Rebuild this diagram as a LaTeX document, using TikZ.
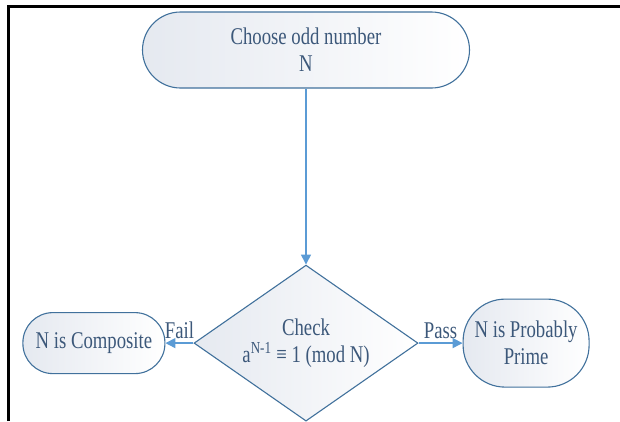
\documentclass[tikz,border=0pt]{standalone}
\usepackage{fontspec}
\setmainfont{Liberation Serif}[FakeStretch=0.78]
\usetikzlibrary{arrows.meta,shapes.geometric,positioning}
\definecolor{boxline}{RGB}{65,113,156}
\definecolor{boxtext}{RGB}{60,88,122}
\definecolor{flowline}{RGB}{91,155,213}
\definecolor{boxshade}{RGB}{229,233,240}

\begin{document}
\begin{tikzpicture}[x=1pt,y=1pt,->,>={Triangle[length=10pt,width=10pt]},auto,text=boxtext,
  font=\fontsize{24}{27}\selectfont]
  \tikzstyle{terminal}=[draw=boxline,line width=1.1pt,left color=boxshade,right color=white,align=center,inner sep=0pt]
  \tikzstyle{decision}=[diamond,draw=boxline,line width=1.1pt,left color=boxshade,right color=white,align=center,
    inner sep=0pt,minimum width=224pt,minimum height=156pt,shape aspect=1.44]
  \tikzstyle{flow}=[every edge/.style={draw=flowline,line width=1.4pt}]

  \useasboundingbox (0,0) rectangle (620,-421);
  % frame of the page
  \draw[-,line width=3pt] (8.5,-421) -- (8.5,-6.5) -- (620,-6.5);

  \node[terminal,rounded corners=38pt,minimum width=327pt,minimum height=76pt] (start) at (306,-50) {Choose odd number\\N};
  \node[decision]  (check)     [below=176pt of start] {Check\\a\textsuperscript{N-1} ≡ 1 (mod N)};
  \node[terminal,rounded corners=30pt,minimum width=142pt,minimum height=61pt] (composite) [left=28pt of check] {N is Composite};
  \node[terminal,rounded corners=42pt,minimum width=126pt,minimum height=88pt] (prime)     [right=44pt of check] {N is Probably\\Prime};

  \path[flow]
  (start) edge (check)
  (check) edge node[swap] {Fail} (composite)
          edge node {Pass} (prime);
\end{tikzpicture}
\end{document}
